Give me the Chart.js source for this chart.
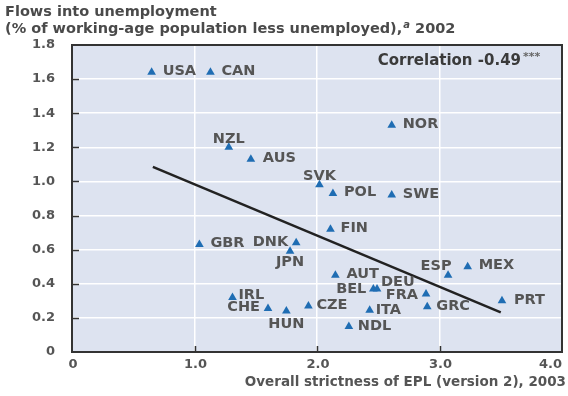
<!DOCTYPE html>
<html><head><meta charset="utf-8">
<script src="https://cdn.jsdelivr.net/npm/chart.js@4.4.1/dist/chart.umd.min.js"></script>
<style>html,body{margin:0;padding:0;background:#fff}#wrap{width:568px;height:396px;position:relative}</style>
</head><body><div id="wrap"><canvas id="c" width="568" height="396"></canvas></div>
<script>
// ---- data ----
const countries = ['USA','CAN','NZL','AUS','NOR','SVK','POL','SWE','FIN','GBR','DNK','JPN','AUT','ESP','MEX','BEL','DEU','FRA','IRL','CHE','HUN','CZE','ITA','GRC','PRT','NDL'];
const epl   = [0.65,1.13,1.28,1.46,2.61,2.02,2.13,2.61,2.11,1.04,1.83,1.78,2.15,3.07,3.23,2.46,2.49,2.89,1.31,1.60,1.75,1.93,2.43,2.90,3.51,2.26];
const flows = [1.64,1.64,1.20,1.13,1.33,0.98,0.93,0.92,0.72,0.63,0.64,0.59,0.45,0.45,0.50,0.37,0.37,0.34,0.32,0.255,0.24,0.27,0.245,0.265,0.30,0.15];
const trendX = [0.66, 3.50];
const trendY = [1.085, 0.232];
const xTickLabels = ['0','1.0','2.0','3.0','4.0'];
const yTickLabels = ['0','0.2','0.4','0.6','0.8','1.0','1.2','1.4','1.6','1.8'];
const titleLine1 = 'Flows into unemployment';
const titleLine2 = '(% of working-age population less unemployed),';
const titleNote = 'a';
const titleYear = ' 2002';
const xTitle = 'Overall strictness of EPL (version 2), 2003';
const corrText = 'Correlation -0.49';
const corrStars = '***';

// ---- styles ----
const FONT = '"DejaVu Sans", sans-serif';
const BG = '#dde3f0';
const BLUE = '#1f6db3';
const TXT = '#555555';
// label placement: [dx, dy, align]
const place = {
  USA:[11,-1,'left'], CAN:[11,-1,'left'], NZL:[0,-8,'center'], AUS:[12,-1,'left'],
  NOR:[11,-1,'left'], SVK:[0,-9,'center'], POL:[11,-1,'left'], SWE:[11,-1,'left'],
  FIN:[10,-1,'left'], GBR:[11,-1,'left'], DNK:[-8,-1,'right'], JPN:[0,11,'center'],
  AUT:[11,-1,'left'], ESP:[-12,-9,'center'], MEX:[11,-1,'left'], BEL:[-7,0,'right'],
  DEU:[4,-7,'left'], FRA:[-8,1,'right'], IRL:[6,-2,'left'], CHE:[-8,-1,'right'],
  HUN:[0,13,'center'], CZE:[8,-1,'left'], ITA:[6,0,'left'], GRC:[9,-1,'left'],
  PRT:[12,-1,'left'], NDL:[9,0,'left']
};

const pointData = epl.map((x, i) => ({x, y: flows[i]}));
const trendData = trendX.map((x, i) => ({x, y: trendY[i]}));

const decor = {
  id: 'decor',
  beforeDraw(chart) {
    const {ctx, chartArea: a} = chart;
    ctx.save();
    ctx.fillStyle = BG;
    ctx.fillRect(a.left, a.top, a.right - a.left, a.bottom - a.top);
    ctx.restore();
  },
  afterDatasetsDraw(chart) {
    const {ctx} = chart;
    const meta = chart.getDatasetMeta(0);
    ctx.save();
    ctx.font = 'bold 14.5px ' + FONT;
    ctx.fillStyle = TXT;
    ctx.textBaseline = 'middle';
    meta.data.forEach((el, i) => {
      const c = countries[i];
      const p = place[c] || [10, 0, 'left'];
      ctx.textAlign = p[2];
      ctx.fillText(c, el.x + p[0], el.y + p[1]);
    });
    ctx.restore();
  },
  afterDraw(chart) {
    const {ctx, chartArea: a, scales} = chart;
    const xs = scales.x, ys = scales.y;
    ctx.save();
    // inner tick marks
    ctx.strokeStyle = '#333';
    ctx.lineWidth = 1.5;
    ys.ticks.forEach(t => {
      if (t.value <= ys.min || t.value >= ys.max) return;
      const y = Math.round(ys.getPixelForValue(t.value)) + 0.5;
      ctx.beginPath(); ctx.moveTo(a.left, y); ctx.lineTo(a.left + 7, y); ctx.stroke();
    });
    xs.ticks.forEach(t => {
      if (t.value <= xs.min || t.value >= xs.max) return;
      const x = Math.round(xs.getPixelForValue(t.value)) + 0.5;
      ctx.beginPath(); ctx.moveTo(x, a.bottom); ctx.lineTo(x, a.bottom - 6); ctx.stroke();
    });
    // frame
    ctx.lineWidth = 2;
    ctx.strokeStyle = '#333';
    ctx.strokeRect(a.left, a.top, a.right - a.left, a.bottom - a.top);

    // x tick labels
    ctx.font = 'bold 13px ' + FONT;
    ctx.fillStyle = TXT;
    ctx.textBaseline = 'middle';
    xs.ticks.forEach((t, i) => {
      const x = xs.getPixelForValue(t.value);
      ctx.textAlign = (i === xs.ticks.length - 1) ? 'right' : 'center';
      ctx.fillText(xTickLabels[i], i === xs.ticks.length - 1 ? a.right : x + 1, a.bottom + 13);
    });
    // x axis title
    ctx.font = 'bold 13.5px ' + FONT;
    ctx.textAlign = 'right';
    ctx.fillText(xTitle, 566, 382);

    // chart title
    ctx.textAlign = 'left';
    ctx.font = 'bold 14.5px ' + FONT;
    ctx.fillStyle = '#4a4a4a';
    ctx.fillText(titleLine1, 5, 12);
    ctx.fillText(titleLine2, 5, 29);
    let w = ctx.measureText(titleLine2).width + 5;
    ctx.font = 'italic bold 10px ' + FONT;
    ctx.fillText(titleNote, w + 1, 25);
    w += ctx.measureText(titleNote).width + 1;
    ctx.font = 'bold 14.5px ' + FONT;
    ctx.fillText(titleYear, w, 29);

    // correlation
    ctx.font = 'bold 15px ' + FONT;
    ctx.fillStyle = '#3a3a3a';
    ctx.textAlign = 'right';
    ctx.fillText(corrText, 521, 61);
    ctx.font = 'bold 11px ' + FONT;
    ctx.textAlign = 'left';
    ctx.fillStyle = '#666';
    ctx.fillText(corrStars, 523, 57);
    ctx.restore();
  }
};

new Chart(document.getElementById('c'), {
  type: 'scatter',
  data: {
    datasets: [
      {
        label: 'Countries',
        data: pointData,
        pointStyle: 'triangle',
        pointRadius: 5,
        backgroundColor: BLUE,
        borderColor: BLUE,
        borderWidth: 0
      },
      {
        label: 'Trend',
        data: trendData,
        showLine: true,
        pointRadius: 0,
        borderColor: '#222',
        borderWidth: 2.5,
        fill: false
      }
    ]
  },
  options: {
    responsive: false,
    animation: false,
    devicePixelRatio: 1,
    layout: {padding: {top: 45, right: 6, left: 0, bottom: 0}},
    plugins: {legend: {display: false}, tooltip: {enabled: false}, title: {display: false}},
    scales: {
      x: {
        type: 'linear', min: 0, max: 4,
        grid: {color: '#ffffff', lineWidth: 1.5, drawTicks: false},
        border: {display: false},
        ticks: {stepSize: 1, display: false},
        afterFit(s) { s.height = 44; s.paddingLeft = 0; s.paddingRight = 0; }
      },
      y: {
        type: 'linear', min: 0, max: 1.8,
        grid: {color: '#ffffff', lineWidth: 1.5, drawTicks: false},
        border: {display: false},
        ticks: {
          stepSize: 0.2, padding: 17, color: TXT,
          font: {family: FONT, size: 13, weight: 'bold'},
          callback: (v, i) => yTickLabels[i]
        },
        afterFit(s) { s.width = 72; s.paddingTop = 0; s.paddingBottom = 0; }
      }
    }
  },
  plugins: [decor]
});
</script>
</body></html>
